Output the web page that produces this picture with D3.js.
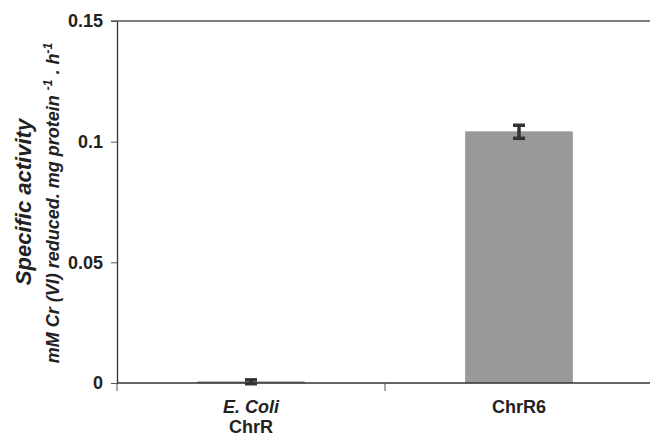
<!DOCTYPE html>
<html>
<head>
<meta charset="utf-8">
<script src="https://cdn.jsdelivr.net/npm/d3@7"></script>
<style>
  body { margin: 0; background: #fff; }
  svg { font-family: "Liberation Sans", Arial, sans-serif; }
</style>
</head>
<body>
<script>
// data
var categories = ["E. Coli ChrR", "ChrR6"];
var labelLines = [["E. Coli", "ChrR"], ["ChrR6"]];
var values = [0.0005, 0.1041];
var errors = [0.0008, 0.0027];
var yTicks = [0, 0.05, 0.1, 0.15];
var yTickLabels = ["0", "0.05", "0.1", "0.15"];

var W = 650, H = 437;
var x0 = 117, x1 = 653, y0 = 383, y1 = 21;

var svg = d3.select("body").append("svg")
    .attr("width", W)
    .attr("height", H);

var xScale = d3.scaleBand()
    .domain(categories)
    .range([x0, x1])
    .paddingInner(0.6)
    .paddingOuter(0.3);

var yScale = d3.scaleLinear()
    .domain([0, 0.15])
    .range([y0, y1]);

// top line at 0.15
svg.append("line")
    .attr("x1", x0 - 6).attr("x2", W)
    .attr("y1", yScale(0.15)).attr("y2", yScale(0.15))
    .attr("stroke", "#555").attr("stroke-width", 1.3);

// bars
svg.selectAll("rect.bar")
    .data(categories)
    .enter().append("rect")
    .attr("class", "bar")
    .attr("x", d => xScale(d))
    .attr("y", (d, i) => yScale(values[i]))
    .attr("width", xScale.bandwidth())
    .attr("height", (d, i) => y0 - yScale(values[i]))
    .attr("fill", "#999999")
    .attr("stroke", "#8a8a8a")
    .attr("stroke-width", 0.5);

// error bars
var err = svg.append("g").attr("stroke", "#333").attr("stroke-width", 3.5);
categories.forEach((c, i) => {
    var cx = xScale(c) + xScale.bandwidth() / 2;
    var top = yScale(values[i] + errors[i]);
    var bot = yScale(values[i] - errors[i]);
    err.append("line").attr("x1", cx).attr("x2", cx).attr("y1", top).attr("y2", bot);
    err.append("line").attr("x1", cx - 6).attr("x2", cx + 6).attr("y1", top).attr("y2", top);
    err.append("line").attr("x1", cx - 6).attr("x2", cx + 6).attr("y1", bot).attr("y2", bot);
});

// y axis
var yAxis = d3.axisLeft(yScale)
    .tickValues(yTicks)
    .tickFormat((d, i) => yTickLabels[i])
    .tickSize(6)
    .tickSizeOuter(0)
    .tickPadding(8);

var gy = svg.append("g")
    .attr("transform", "translate(" + x0 + ",0)")
    .call(yAxis);
gy.select(".domain").attr("stroke", "#333").attr("stroke-width", 1.3);
gy.selectAll(".tick line").attr("stroke", "#555");
gy.selectAll(".tick text")
    .attr("font-size", "18px")
    .attr("font-weight", "bold")
    .attr("fill", "#222");

// x axis line and tick marks between categories
svg.append("line")
    .attr("x1", x0).attr("x2", W)
    .attr("y1", y0).attr("y2", y0)
    .attr("stroke", "#333").attr("stroke-width", 1.3);

var step = xScale.step();
var bounds = [x0].concat(categories.map(c => xScale(c) + xScale.bandwidth() + (step - xScale.bandwidth()) / 2));
svg.selectAll("line.xtick")
    .data(bounds)
    .enter().append("line")
    .attr("class", "xtick")
    .attr("x1", d => d).attr("x2", d => d)
    .attr("y1", y0).attr("y2", y0 + 8)
    .attr("stroke", "#555");

// category labels
categories.forEach((c, i) => {
    var t = svg.append("text")
        .attr("x", xScale(c) + xScale.bandwidth() / 2)
        .attr("y", 413)
        .attr("text-anchor", "middle")
        .attr("font-size", "18px")
        .attr("font-weight", "bold")
        .attr("fill", "#222");
    labelLines[i].forEach((ln, j) => {
        t.append("tspan")
            .attr("x", xScale(c) + xScale.bandwidth() / 2)
            .attr("dy", j === 0 ? 0 : 19.5)
            .attr("font-style", (labelLines[i].length > 1 && j === 0) ? "italic" : "normal")
            .text(ln);
    });
});

// y title
svg.append("text")
    .attr("transform", "translate(31,202) rotate(-90)")
    .attr("text-anchor", "middle")
    .attr("font-size", "22px")
    .attr("font-weight", "bold")
    .attr("font-style", "italic")
    .attr("fill", "#222")
    .text("Specific activity");

var sub = svg.append("text")
    .attr("transform", "translate(59,203) rotate(-90)")
    .attr("text-anchor", "middle")
    .attr("font-size", "18px")
    .attr("font-weight", "bold")
    .attr("font-style", "italic")
    .attr("fill", "#222");
sub.append("tspan").text("mM Cr (VI) reduced. mg protein ");
sub.append("tspan").attr("dy", -7).attr("font-size", "12px").text("-1");
sub.append("tspan").attr("dy", 7).text(" . h");
sub.append("tspan").attr("dy", -7).attr("font-size", "12px").text("-1");
</script>
</body>
</html>
